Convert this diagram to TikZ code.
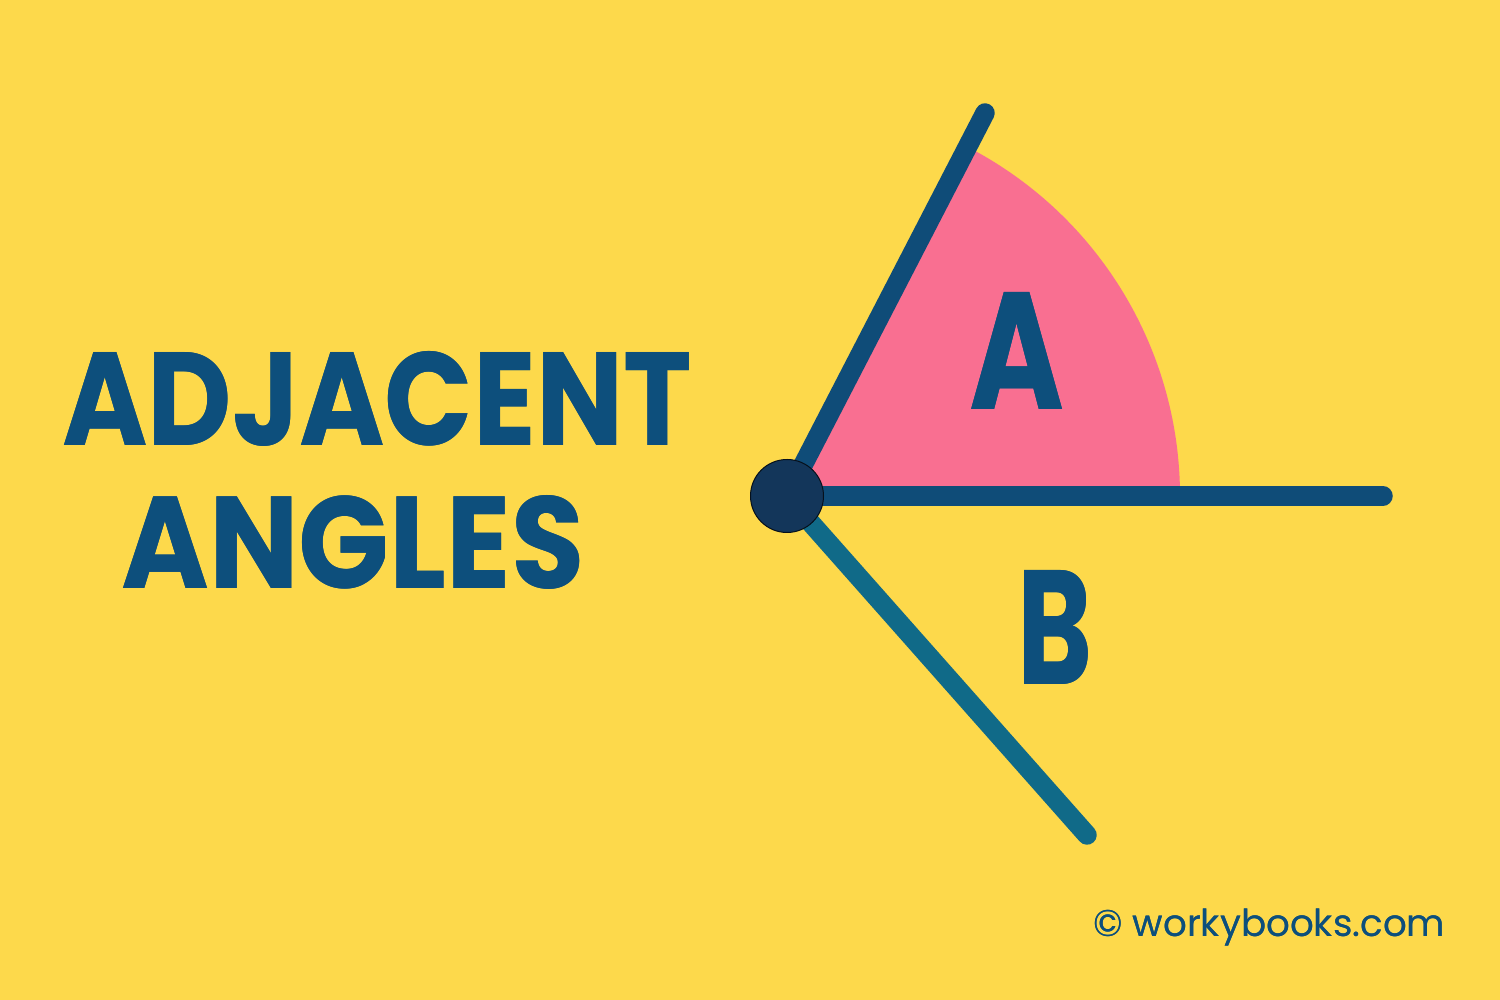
\documentclass[tikz,border=0pt]{standalone}
\usepackage{fontspec}
\newfontfamily\pop{Poppins}
\usepackage{graphicx}
\usepackage[outline]{contour}
\contournumber{32}
\definecolor{bg}{HTML}{FDD94B}
\definecolor{txt}{HTML}{0D4F7C}
\definecolor{ray}{HTML}{0F4C78}
\definecolor{rayb}{HTML}{106A88}
\definecolor{dot}{HTML}{13365A}
\definecolor{pinkA}{HTML}{F96F91}
\newcommand\heavy[2]{\contourlength{#1}\contour{txt}{#2}}
\begin{document}
\begin{tikzpicture}[x=1pt,y=1pt,
  rayline/.style={line width=19.5pt,line cap=round},
  bigtxt/.style={inner sep=0pt,text=txt,anchor=south},
  lbl/.style={inner sep=0pt,text=txt}]
\fill[bg] (0,0) rectangle (1500,1000);
\useasboundingbox (0,0) rectangle (1500,1000);
\coordinate (V) at (787,504);
\coordinate (U) at (985,887);
\coordinate (H) at (1383,504);
\coordinate (L) at (1087,165);
% pink sector
\fill[pinkA] (V) -- ++(0:393) arc[start angle=0,end angle=62.66,radius=393] -- cycle;
% rays
\draw[rayline,ray] (V) -- (U);
\draw[rayline,ray] (V) -- (H);
\draw[rayline,rayb] (V) -- (L);
\node[circle,fill=dot,draw=black!70!dot,line width=1pt,minimum size=73pt,inner sep=0pt] (dotV) at (V) {};
% labels
\node[lbl] (labA) at (1017,649) {\resizebox{95pt}{117pt}{\pop\bfseries\heavy{0.2pt}{A}}};
\node[lbl] (labB) at (1055,373) {\resizebox{75pt}{114pt}{\pop\bfseries\heavy{0.2pt}{B}}};
% title
\node[bigtxt] (t1) at (377,553) {\resizebox{630pt}{94pt}{\pop\bfseries\heavy{0.2pt}{ADJACENT}}};
\node[bigtxt] (t2) at (353,410) {\resizebox{463pt}{93pt}{\pop\bfseries\heavy{0.2pt}{ANGLES}}};
% watermark
\node[inner sep=0pt,text=txt,anchor=base west] (wm) at (1093,63) {\resizebox{352pt}{!}{\pop\heavy{0.3pt}{© workybooks.com}}};
\end{tikzpicture}
\end{document}
